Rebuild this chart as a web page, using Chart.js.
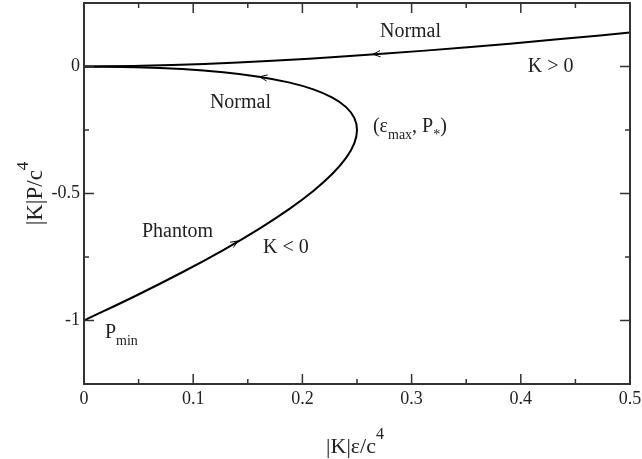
<!DOCTYPE html>
<html>
<head>
<meta charset="utf-8">
<script src="https://cdn.jsdelivr.net/npm/chart.js@4/dist/chart.umd.min.js"></script>
<style>
  html, body { margin: 0; padding: 0; background: #fff; }
  #wrap { width: 642px; height: 459px; }
</style>
</head>
<body>
<div id="wrap"><canvas id="c" width="642" height="459"></canvas></div>
<script>
// K > 0 branch
const epsPos  = [0, 0.0525, 0.11, 0.1725, 0.24, 0.3125, 0.39, 0.4725, 0.5]
const presPos = [0, 0.0025, 0.01, 0.0225, 0.04, 0.0625, 0.09, 0.1225, 0.134]

// K < 0 branch: normal part on top, phantom part below the turning point
const epsNeg  = [0, 0.0475, 0.09, 0.1275, 0.16, 0.1875, 0.21, 0.2275, 0.24, 0.2475, 0.25,
                 0.2475, 0.24, 0.2275, 0.21, 0.1875, 0.16, 0.1275, 0.09, 0.0475, 0]
const presNeg = [0, -0.0025, -0.01, -0.0225, -0.04, -0.0625, -0.09, -0.1225, -0.16, -0.2025, -0.25,
                 -0.3025, -0.36, -0.4225, -0.49, -0.5625, -0.64, -0.7225, -0.81, -0.9025, -1]

const xTicks = [0, 0.1, 0.2, 0.3, 0.4, 0.5]
const xTickLabels = ['0', '0.1', '0.2', '0.3', '0.4', '0.5']
const xMinor = [0.05, 0.15, 0.25, 0.35, 0.45]
const yTicks = [-1, -0.5, 0]
const yTickLabels = ['-1', '-0.5', '0']
const yMinor = [-0.75, -0.25]

// direction arrows: tip and a point behind it on the curve
const arrows = [
  { tip: [0.2646, 0.0482], tail: [0.28, 0.0532] },
  { tip: [0.161, -0.0405], tail: [0.175, -0.05] },
  { tip: [0.141, -0.687], tail: [0.132, -0.711] },
]

// text notes, anchored at left/baseline in data units
const notes = [
  { parts: [['Normal']], x: 0.271, y: 0.115 },
  { parts: [['K > 0']], x: 0.4064, y: -0.022 },
  { parts: [['Normal']], x: 0.1153, y: -0.164 },
  { parts: [['(ε'], ['max', 'sub'], [', P'], ['*', 'sub'], [')']], x: 0.2646, y: -0.258 },
  { parts: [['Phantom']], x: 0.0531, y: -0.671 },
  { parts: [['K < 0']], x: 0.1639, y: -0.734 },
  { parts: [['P'], ['min', 'sub']], x: 0.0192, y: -1.068 },
]

const SERIF = '"Liberation Serif", "Times New Roman", serif'
const INK = '#222'

function pts(xs, ys) { return xs.map((x, i) => ({ x, y: ys[i] })) }

// draws text with sub/superscripts, returns width
function rich(ctx, parts, x, y, size, measureOnly) {
  let cx = x
  for (const [t, kind] of parts) {
    const small = kind === 'sub' || kind === 'sup'
    const fs = small ? Math.round(size * 0.72) : size
    ctx.font = fs + 'px ' + SERIF
    const dy = kind === 'sub' ? size * 0.35 : kind === 'sup' ? -size * 0.62 : 0
    if (!measureOnly) ctx.fillText(t, cx, y + dy)
    cx += ctx.measureText(t).width
  }
  return cx - x
}

const decor = {
  id: 'decor',
  afterDraw(chart) {
    const { ctx, chartArea: a, scales: { x, y } } = chart
    ctx.save()
    // frame
    ctx.strokeStyle = '#333'
    ctx.lineWidth = 2
    ctx.strokeRect(a.left, a.top, a.right - a.left, a.bottom - a.top)
    // inward ticks on all four sides
    ctx.lineWidth = 1.5
    ctx.beginPath()
    const tick = (v, len, isX) => {
      if (isX) {
        const p = x.getPixelForValue(v)
        ctx.moveTo(p, a.bottom); ctx.lineTo(p, a.bottom - len)
        ctx.moveTo(p, a.top); ctx.lineTo(p, a.top + len)
      } else {
        const p = y.getPixelForValue(v)
        ctx.moveTo(a.left, p); ctx.lineTo(a.left + len, p)
        ctx.moveTo(a.right, p); ctx.lineTo(a.right - len, p)
      }
    }
    xTicks.forEach(v => tick(v, 10, true))
    xMinor.forEach(v => tick(v, 5, true))
    yTicks.forEach(v => tick(v, 10, false))
    yMinor.forEach(v => tick(v, 5, false))
    ctx.stroke()

    // arrow heads
    ctx.strokeStyle = '#000'
    ctx.lineWidth = 1
    for (const ar of arrows) {
      const tx = x.getPixelForValue(ar.tip[0]), ty = y.getPixelForValue(ar.tip[1])
      const bx = x.getPixelForValue(ar.tail[0]), by = y.getPixelForValue(ar.tail[1])
      const ang = Math.atan2(by - ty, bx - tx)
      ctx.beginPath()
      ctx.moveTo(tx + 8 * Math.cos(ang + 0.4), ty + 8 * Math.sin(ang + 0.4))
      ctx.lineTo(tx, ty)
      ctx.lineTo(tx + 8 * Math.cos(ang - 0.4), ty + 8 * Math.sin(ang - 0.4))
      ctx.stroke()
    }

    // notes
    ctx.fillStyle = INK
    ctx.textBaseline = 'alphabetic'
    ctx.textAlign = 'left'
    for (const n of notes) {
      rich(ctx, n.parts, x.getPixelForValue(n.x), y.getPixelForValue(n.y), 20)
    }

    // axis titles
    const xt = [['|K|ε/c'], ['4', 'sup']]
    const wx = rich(ctx, xt, 0, 0, 22, true)
    rich(ctx, xt, (a.left + a.right) / 2 - wx / 2 - 2, 453, 22)

    const yt = [['|K|P/c'], ['4', 'sup']]
    const wy = rich(ctx, yt, 0, 0, 23, true)
    ctx.translate(42, (a.top + a.bottom) / 2 + wy / 2)
    ctx.rotate(-Math.PI / 2)
    rich(ctx, yt, 0, 0, 23)
    ctx.restore()
  }
}

const tickFont = { family: SERIF, size: 18 }

new Chart(document.getElementById('c'), {
  type: 'scatter',
  data: {
    datasets: [
      { data: pts(epsPos, presPos), showLine: true, borderColor: '#000', borderWidth: 2, pointRadius: 0, tension: 0.4, fill: false },
      { data: pts(epsNeg, presNeg), showLine: true, borderColor: '#000', borderWidth: 2, pointRadius: 0, tension: 0.4, fill: false },
    ],
  },
  options: {
    responsive: false,
    animation: false,
    layout: { padding: { top: 3, right: 12, left: 0, bottom: 0 } },
    plugins: { legend: { display: false }, tooltip: { enabled: false } },
    scales: {
      x: {
        type: 'linear', min: 0, max: 0.5,
        afterBuildTicks: s => { s.ticks = xTicks.map(v => ({ value: v })) },
        afterFit: s => { s.height = 75; s.paddingLeft = 0; s.paddingRight = 0 },
        ticks: { callback: (v, i) => xTickLabels[i], font: tickFont, color: INK, padding: 4, maxRotation: 0, autoSkip: false },
        grid: { display: false, drawTicks: false },
        border: { display: false },
      },
      y: {
        type: 'linear', min: -1.25, max: 0.25,
        afterBuildTicks: s => { s.ticks = yTicks.map(v => ({ value: v })) },
        afterFit: s => { s.width = 84; s.paddingTop = 0; s.paddingBottom = 0 },
        ticks: { callback: (v, i) => yTickLabels[i], font: tickFont, color: INK, padding: 4, autoSkip: false },
        grid: { display: false, drawTicks: false },
        border: { display: false },
      },
    },
  },
  plugins: [decor],
})
</script>
</body>
</html>
